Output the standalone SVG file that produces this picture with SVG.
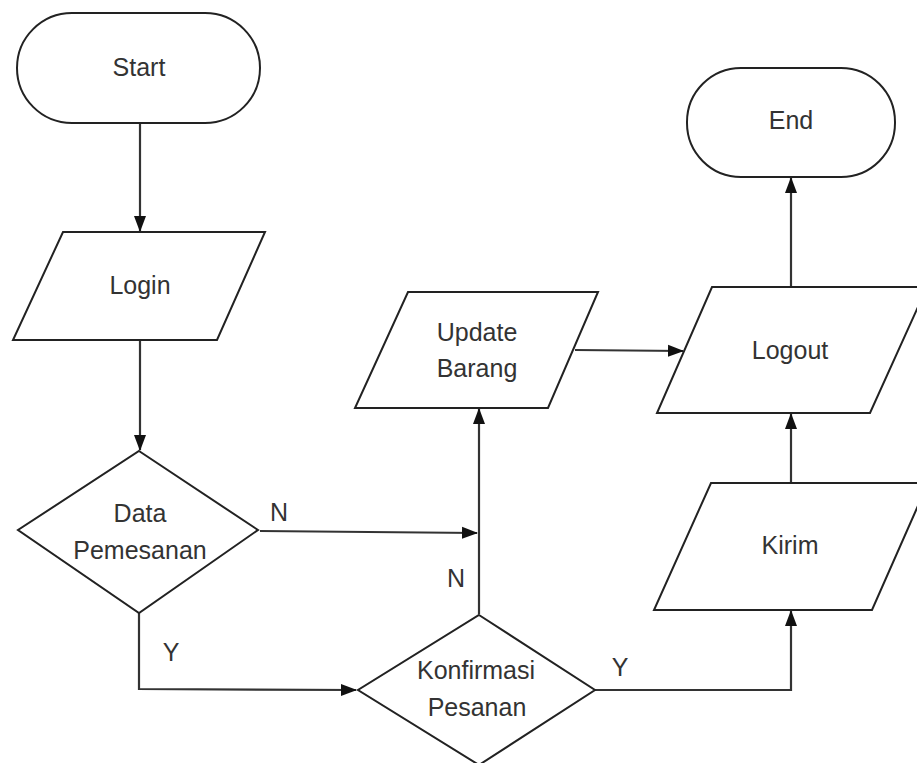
<svg xmlns="http://www.w3.org/2000/svg" width="917" height="763" viewBox="0 0 917 763">
<style>
.s{fill:#fff;stroke:#222;stroke-width:2}
.c{fill:none;stroke:#333;stroke-width:2.2}
text{font-family:"Liberation Sans",Arial,sans-serif;font-size:25px;fill:#333;text-anchor:middle}
</style>
<defs>
<marker id="ah" markerWidth="16" markerHeight="14" refX="15" refY="7" orient="auto" markerUnits="userSpaceOnUse">
<path d="M0,1 L16,7 L0,13 Z" fill="#111"/>
</marker>
</defs>
<rect width="917" height="763" fill="#fff"/>
<g id="connectors">
<line class="c" x1="140" y1="123" x2="140" y2="231" marker-end="url(#ah)"/>
<line class="c" x1="140" y1="340" x2="140" y2="450" marker-end="url(#ah)"/>
<polyline class="c" points="260,531 477,533" marker-end="url(#ah)"/>
<polyline class="c" points="139,613 139,689 356,690" marker-end="url(#ah)"/>
<line class="c" x1="479" y1="614" x2="479" y2="409" marker-end="url(#ah)"/>
<line class="c" x1="575" y1="350" x2="683" y2="351" marker-end="url(#ah)"/>
<polyline class="c" points="595,690 791,690 791,611" marker-end="url(#ah)"/>
<line class="c" x1="791" y1="483" x2="791" y2="414" marker-end="url(#ah)"/>
<line class="c" x1="791" y1="287" x2="791" y2="178" marker-end="url(#ah)"/>
<text x="279" y="521">N</text>
<text x="171" y="661">Y</text>
<text x="456" y="587">N</text>
<text x="620" y="676">Y</text>
</g>
<g id="start">
<rect class="s" x="17" y="13" width="243" height="110" rx="55" ry="55"/>
<text x="139" y="76">Start</text>
</g>
<g id="login">
<polygon class="s" points="63,232 265,232 217,340 13,340"/>
<text x="140" y="294">Login</text>
</g>
<g id="data-pemesanan">
<polygon class="s" points="139,451 258,530 139,613 18,530"/>
<text x="140" y="522">Data</text>
<text x="140" y="559">Pemesanan</text>
</g>
<g id="konfirmasi-pesanan">
<polygon class="s" points="479,615 595,690 479,765 358,690"/>
<text x="476" y="679">Konfirmasi</text>
<text x="477" y="716">Pesanan</text>
</g>
<g id="update-barang">
<polygon class="s" points="408,292 598,292 548,408 355,408"/>
<text x="477" y="341">Update</text>
<text x="477" y="377">Barang</text>
</g>
<g id="end">
<rect class="s" x="687" y="68" width="208" height="109" rx="54" ry="54"/>
<text x="791" y="129">End</text>
</g>
<g id="logout">
<polygon class="s" points="712,287 927,287 870,413 657,413"/>
<text x="790" y="359">Logout</text>
</g>
<g id="kirim">
<polygon class="s" points="711,483 928,483 872,610 654,610"/>
<text x="790" y="554">Kirim</text>
</g>
</svg>
